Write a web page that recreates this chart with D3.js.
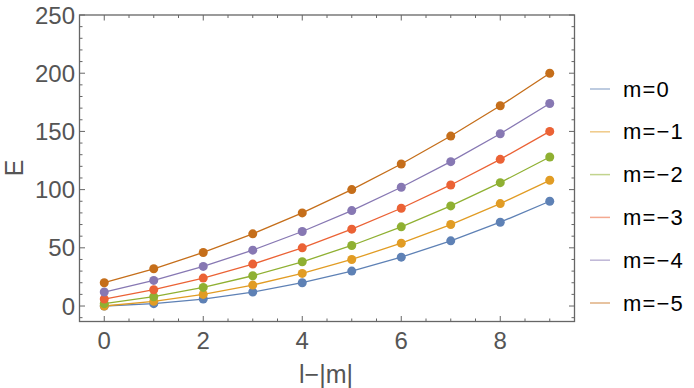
<!DOCTYPE html>
<html>
<head>
<meta charset="utf-8">
<script src="https://cdn.jsdelivr.net/npm/d3@7"></script>
<style>
  html, body { margin: 0; padding: 0; background: #fff; }
  svg { display: block; }
</style>
</head>
<body>
<svg id="chart" width="694" height="388"></svg>
<script>
// ---- data ----
const xValues = [0, 1, 2, 3, 4, 5, 6, 7, 8, 9];
const seriesNames = ["m=0", "m=\u22121", "m=\u22122", "m=\u22123", "m=\u22124", "m=\u22125"];
const m0 = [0, 2, 6, 12, 20, 30, 42, 56, 72, 90];
const m1 = [0, 4, 10, 18, 28, 40, 54, 70, 88, 108];
const m2 = [2, 8, 16, 26, 38, 52, 68, 86, 106, 128];
const m3 = [6, 14, 24, 36, 50, 66, 84, 104, 126, 150];
const m4 = [12, 22, 34, 48, 64, 82, 102, 124, 148, 174];
const m5 = [20, 32, 46, 62, 80, 100, 122, 146, 172, 200];
const seriesValues = [m0, m1, m2, m3, m4, m5];
const colors = ["#5E81B5", "#E19C24", "#8FB032", "#EB6235", "#8778B3", "#C56E1A"];
const xTickLabels = [0, 2, 4, 6, 8];
const yTickLabels = [0, 50, 100, 150, 200, 250];
const xLabel = "l\u2212|m|";
const yLabel = "E";

// ---- layout ----
const svg = d3.select("#chart");
const L = 79.5, R = 574.5, T = 15, B = 321.5;
const x = d3.scaleLinear().domain([-0.5, 9.5]).range([L, R]);
const y = d3.scaleLinear().domain([-13.3, 250]).range([B, T]);

const frameColor = "#666";
const labelColor = "#555";
const font = "'Liberation Sans', Arial, sans-serif";

// frame
svg.append("rect")
  .attr("x", L).attr("y", T).attr("width", R - L).attr("height", B - T)
  .attr("fill", "none").attr("stroke", frameColor).attr("stroke-width", 1.3);

// ticks (inward)
const xMinor = d3.range(0, 9.51, 0.5).filter(v => v % 2 !== 0);
const yMinor = d3.range(-10, 250.1, 10).filter(v => v % 50 !== 0);
const tickG = svg.append("g").attr("stroke", frameColor).attr("stroke-width", 1);
function xTick(v, len) {
  tickG.append("line").attr("x1", x(v)).attr("x2", x(v)).attr("y1", B).attr("y2", B - len);
  tickG.append("line").attr("x1", x(v)).attr("x2", x(v)).attr("y1", T).attr("y2", T + len);
}
function yTick(v, len) {
  tickG.append("line").attr("y1", y(v)).attr("y2", y(v)).attr("x1", L).attr("x2", L + len);
  tickG.append("line").attr("y1", y(v)).attr("y2", y(v)).attr("x1", R).attr("x2", R - len);
}
xTickLabels.forEach(v => xTick(v, 5.5));
xMinor.forEach(v => xTick(v, 3));
yTickLabels.forEach(v => yTick(v, 5.5));
yMinor.forEach(v => yTick(v, 3));

// tick labels
svg.append("g").selectAll("text").data(xTickLabels).join("text")
  .attr("x", d => x(d)).attr("y", 340)
  .attr("text-anchor", "middle").attr("dominant-baseline", "central")
  .attr("font-family", font).attr("font-size", 24).attr("fill", labelColor)
  .text(d => d);
svg.append("g").selectAll("text").data(yTickLabels).join("text")
  .attr("x", 75).attr("y", d => y(d))
  .attr("text-anchor", "end").attr("dominant-baseline", "central")
  .attr("font-family", font).attr("font-size", 24).attr("fill", labelColor)
  .text(d => d);

// axis labels
svg.append("text")
  .attr("transform", "translate(14,168) rotate(-90)")
  .attr("text-anchor", "middle").attr("dominant-baseline", "central")
  .attr("font-family", font).attr("font-size", 25).attr("fill", labelColor)
  .text(yLabel);
svg.append("text")
  .attr("x", 326).attr("y", 374)
  .attr("text-anchor", "middle").attr("dominant-baseline", "central")
  .attr("font-family", font).attr("font-size", 25).attr("fill", labelColor)
  .text(xLabel);

// series
const line = d3.line().x((d, i) => x(xValues[i])).y(d => y(d));
seriesValues.forEach((vals, si) => {
  const g = svg.append("g");
  g.append("path").datum(vals)
    .attr("d", line).attr("fill", "none")
    .attr("stroke", colors[si]).attr("stroke-width", 1.3);
  g.selectAll("circle").data(vals).join("circle")
    .attr("cx", (d, i) => x(xValues[i])).attr("cy", d => y(d))
    .attr("r", 4.5).attr("fill", colors[si]);
});

// legend
const leg = svg.append("g");
seriesNames.forEach((name, i) => {
  const cy = 89 + i * 42.8;
  leg.append("line")
    .attr("x1", 590).attr("x2", 610).attr("y1", cy).attr("y2", cy)
    .attr("stroke", colors[i]).attr("stroke-opacity", 0.55).attr("stroke-width", 1.5);
  leg.append("text")
    .attr("x", 623).attr("y", cy)
    .attr("dominant-baseline", "central")
    .attr("font-family", font).attr("font-size", 22).attr("letter-spacing", 1.2)
    .attr("fill", "#000")
    .text(name);
});
</script>
</body>
</html>
